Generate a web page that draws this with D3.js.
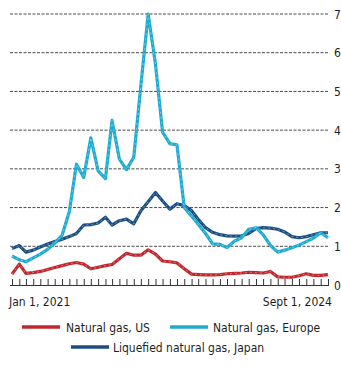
<!DOCTYPE html>
<html>
<head>
<meta charset="utf-8">
<script src="https://cdn.jsdelivr.net/npm/d3@7"></script>
<style>
  html, body { margin: 0; padding: 0; background: #fff; }
  svg { display: block; }
  text { font-family: "Liberation Sans Narrow", "DejaVu Sans Condensed", "Roboto", sans-serif; fill: #1e1e1e; }
</style>
</head>
<body>
<svg id="chart" width="341" height="367"></svg>
<script>
// Monthly prices, Jan 2021 – Sep 2024 ($10 per mmBtu)
const startMonth = new Date(2021, 0, 1);
const monthCount = 45;

const usGas = [
  0.28, 0.54, 0.30, 0.32, 0.35, 0.40, 0.45, 0.50, 0.55, 0.58, 0.54, 0.42,
  0.46, 0.50, 0.53, 0.68, 0.82, 0.77, 0.77, 0.91, 0.80, 0.62, 0.60, 0.57,
  0.42, 0.28, 0.27, 0.26, 0.26, 0.27, 0.29, 0.30, 0.31, 0.33, 0.32, 0.31,
  0.35, 0.21, 0.20, 0.20, 0.24, 0.29, 0.25, 0.25, 0.27
];

const europeGas = [
  0.75, 0.65, 0.60, 0.70, 0.80, 0.92, 1.08, 1.28, 1.90, 3.12, 2.78, 3.80,
  2.95, 2.75, 4.25, 3.25, 2.98, 3.30, 5.15, 7.00, 5.70, 3.95, 3.65, 3.62,
  2.00, 1.78, 1.57, 1.33, 1.06, 1.05, 0.97, 1.13, 1.22, 1.44, 1.48, 1.30,
  1.02, 0.85, 0.90, 0.96, 1.03, 1.12, 1.21, 1.35, 1.22
];

const japanLng = [
  0.94, 1.02, 0.85, 0.90, 0.98, 1.06, 1.12, 1.18, 1.25, 1.33, 1.55, 1.56,
  1.60, 1.75, 1.55, 1.66, 1.70, 1.58, 1.92, 2.15, 2.39, 2.17, 1.96, 2.10,
  2.05, 1.92, 1.70, 1.48, 1.36, 1.30, 1.27, 1.26, 1.27, 1.33, 1.46, 1.48,
  1.47, 1.44, 1.37, 1.25, 1.22, 1.25, 1.30, 1.35, 1.35
];

const yTicks = [0, 1, 2, 3, 4, 5, 6, 7];
const startLabel = "Jan 1, 2021";
const endLabel = "Sept 1, 2024";

const seriesNames = ["Natural gas, US", "Natural gas, Europe", "Liquefied natural gas, Japan"];
const seriesColors = ["#c1272d", "#1fabd0", "#1b4f82"];

const months = d3.range(monthCount).map(i => d3.timeMonth.offset(startMonth, i));

const svg = d3.select("#chart");
const plotLeft = 12, plotRight = 328, plotTop = 14, plotBottom = 285;

const x = d3.scaleTime().domain([months[0], months[monthCount - 1]]).range([plotLeft, plotRight]);
const y = d3.scaleLinear().domain([0, 7]).range([plotBottom, plotTop]);

// Dashed horizontal gridlines with value labels on the right
const grid = svg.append("g");
grid.selectAll("line")
  .data(yTicks.filter(d => d > 0))
  .join("line")
  .attr("x1", plotLeft - 2).attr("x2", plotRight + 1)
  .attr("y1", d => y(d)).attr("y2", d => y(d))
  .attr("stroke", "#4a4a4a").attr("stroke-width", 1)
  .attr("stroke-dasharray", "3,1.5");

grid.selectAll("text")
  .data(yTicks)
  .join("text")
  .attr("x", 334).attr("y", d => y(d) + 4.5)
  .attr("font-size", 12)
  .text(d => d);

// Bottom axis with a tick for every month
const xAxis = d3.axisBottom(x)
  .tickValues(months)
  .tickSize(-6)
  .tickSizeOuter(0)
  .tickFormat("");
const axisG = svg.append("g")
  .attr("transform", `translate(0,${plotBottom})`)
  .call(xAxis);
axisG.select(".domain").attr("stroke", "#333").attr("d", `M${plotLeft - 2},0.5H${plotRight + 1}`);
axisG.selectAll(".tick line").attr("stroke", "#333");

svg.append("text").attr("x", 9).attr("y", 306).attr("font-size", 12).text(startLabel);
svg.append("text").attr("x", 332).attr("y", 306).attr("font-size", 12)
  .attr("text-anchor", "end").text(endLabel);

// Price lines
const line = d3.line()
  .x((d, i) => x(months[i]))
  .y(d => y(d))
  .curve(d3.curveLinear);

const allSeries = [usGas, japanLng, europeGas];
const allColors = [seriesColors[0], seriesColors[2], seriesColors[1]];
const lines = svg.append("g");
allSeries.forEach((s, k) => {
  lines.append("path")
    .datum(s)
    .attr("d", line)
    .attr("fill", "none")
    .attr("stroke", allColors[k])
    .attr("stroke-width", 3.2)
    .attr("stroke-linejoin", "round");
  lines.append("path")
    .datum(s)
    .attr("d", line)
    .attr("fill", "none")
    .attr("stroke", "#fff")
    .attr("stroke-opacity", 0.55)
    .attr("stroke-width", 0.7)
    .attr("stroke-dasharray", "2,3");
});

// Legend
const legendItems = [
  { name: seriesNames[0], color: seriesColors[0], lx: 22, tx: 66, cy: 327 },
  { name: seriesNames[1], color: seriesColors[1], lx: 170, tx: 213, cy: 327 },
  { name: seriesNames[2], color: seriesColors[2], lx: 71, tx: 113, cy: 347 }
];
const legend = svg.append("g");
legendItems.forEach(it => {
  legend.append("line")
    .attr("x1", it.lx).attr("x2", it.lx + 38)
    .attr("y1", it.cy).attr("y2", it.cy)
    .attr("stroke", it.color).attr("stroke-width", 3.5);
  legend.append("text")
    .attr("x", it.tx).attr("y", it.cy + 4.5)
    .attr("font-size", 12)
    .text(it.name);
});
</script>
</body>
</html>
